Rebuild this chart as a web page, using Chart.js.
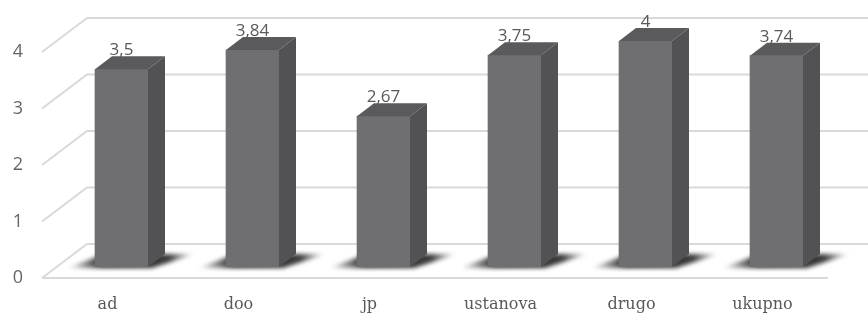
<!DOCTYPE html>
<html>
<head>
<meta charset="utf-8">
<script src="https://cdn.jsdelivr.net/npm/chart.js@4/dist/chart.umd.min.js"></script>
<style>
  html, body { margin: 0; padding: 0; background: #fff; }
  #wrap { width: 868px; height: 313px; }
</style>
</head>
<body>
<div id="wrap"><canvas id="grafik" width="868" height="313"></canvas></div>
<script>
const kategorije = ['ad', 'doo', 'jp', 'ustanova', 'drugo', 'ukupno'];
const vrijednosti = [3.5, 3.84, 2.67, 3.75, 4, 3.74];
const yOznake = [0, 1, 2, 3, 4];

// 3D "dubina" - pomak zidova i stupaca
const dubina = { dx: 45, dy: -34 };
const pomakStupca = { dx: 14, dy: -11 };
const dubinaStupca = { dx: 17, dy: -13 };

const tekstBoja = '#595959';
const mrezaBoja = '#d9d9d9';

function fmt(v) {
  return String(v).replace('.', ',');
}

const efekt3d = {
  id: 'efekt3d',
  beforeDatasetsDraw(chart) {
    const ctx = chart.ctx;
    const y = chart.scales.y;
    const a = chart.chartArea;
    ctx.save();
    ctx.strokeStyle = mrezaBoja;
    ctx.lineWidth = 2;
    yOznake.forEach(v => {
      const py = y.getPixelForValue(v);
      ctx.beginPath();
      ctx.moveTo(a.left, py);
      ctx.lineTo(a.left + dubina.dx, py + dubina.dy);
      ctx.lineTo(chart.width, py + dubina.dy);
      ctx.stroke();
    });
    // prednji rub poda
    const p0 = y.getPixelForValue(0);
    ctx.beginPath();
    ctx.moveTo(a.left, p0);
    ctx.lineTo(a.right, p0);
    ctx.stroke();
    ctx.restore();

    // stupci se crtaju pomaknuti u dubinu
    ctx.save();
    ctx.translate(pomakStupca.dx, pomakStupca.dy);
    const meta = chart.getDatasetMeta(0);
    meta.data.forEach(bar => {
      const xl = bar.x - bar.width / 2;
      const xr = bar.x + bar.width / 2;
      const b = bar.base;
      const g = ctx.createLinearGradient(xl - 28, 0, xr + dubinaStupca.dx + 30, 0);
      g.addColorStop(0, 'rgba(40,40,40,0)');
      g.addColorStop(0.28, 'rgba(30,30,30,1)');
      g.addColorStop(0.8, 'rgba(40,40,40,0.9)');
      g.addColorStop(1, 'rgba(60,60,60,0)');
      ctx.save();
      ctx.filter = 'blur(2px)';
      ctx.fillStyle = g;
      ctx.beginPath();
      ctx.moveTo(xl - 28, b + 1);
      ctx.lineTo(xr + 4, b + 1);
      ctx.lineTo(xr + dubinaStupca.dx + 30, b + dubinaStupca.dy);
      ctx.lineTo(xl + dubinaStupca.dx - 8, b + dubinaStupca.dy);
      ctx.closePath();
      ctx.fill();
      ctx.restore();
    });
  },
  afterDatasetsDraw(chart) {
    const ctx = chart.ctx;
    const meta = chart.getDatasetMeta(0);
    const ddx = dubinaStupca.dx, ddy = dubinaStupca.dy;
    meta.data.forEach(bar => {
      const xl = bar.x - bar.width / 2;
      const xr = bar.x + bar.width / 2;
      const t = bar.y, b = bar.base;
      // bocna strana
      ctx.fillStyle = '#525254';
      ctx.beginPath();
      ctx.moveTo(xr, t);
      ctx.lineTo(xr + ddx, t + ddy);
      ctx.lineTo(xr + ddx, b + ddy);
      ctx.lineTo(xr, b);
      ctx.closePath();
      ctx.fill();
      // gornja strana
      ctx.fillStyle = '#5a5a5c';
      ctx.beginPath();
      ctx.moveTo(xl, t);
      ctx.lineTo(xl + ddx, t + ddy);
      ctx.lineTo(xr + ddx, t + ddy);
      ctx.lineTo(xr, t);
      ctx.closePath();
      ctx.fill();
    });
    // oznake vrijednosti
    ctx.fillStyle = tekstBoja;
    ctx.font = '17px "Open Sans", "DejaVu Sans", sans-serif';
    ctx.textAlign = 'center';
    ctx.textBaseline = 'alphabetic';
    meta.data.forEach((bar, i) => {
      ctx.fillText(fmt(vrijednosti[i]), bar.x, bar.y - 14);
    });
    ctx.restore();
  }
};

const ctx = document.getElementById('grafik').getContext('2d');
const grafik = new Chart(ctx, {
  type: 'bar',
  data: {
    labels: kategorije,
    datasets: [{
      data: vrijednosti,
      backgroundColor: '#6f6f72',
      borderWidth: 0,
      barThickness: 53
    }]
  },
  options: {
    responsive: false,
    animation: false,
    layout: { padding: { top: 52, right: 40, left: 0, bottom: 0 } },
    plugins: {
      legend: { display: false },
      tooltip: { enabled: false }
    },
    scales: {
      x: {
        grid: { display: false, drawTicks: false },
        border: { display: false },
        ticks: {
          color: tekstBoja,
          font: { family: '"DejaVu Serif", serif', size: 16 },
          padding: 17
        },
        afterFit(s) { s.height = 35; }
      },
      y: {
        min: 0,
        max: 4,
        grid: { display: false, drawTicks: false },
        border: { display: false },
        afterBuildTicks(s) { s.ticks = yOznake.map(v => ({ value: v })); },
        ticks: {
          color: '#666666',
          font: { family: '"Open Sans", "DejaVu Sans", sans-serif', size: 18 },
          padding: 19
        },
        afterFit(s) { s.width = 42; }
      }
    }
  },
  plugins: [efekt3d]
});
</script>
</body>
</html>
